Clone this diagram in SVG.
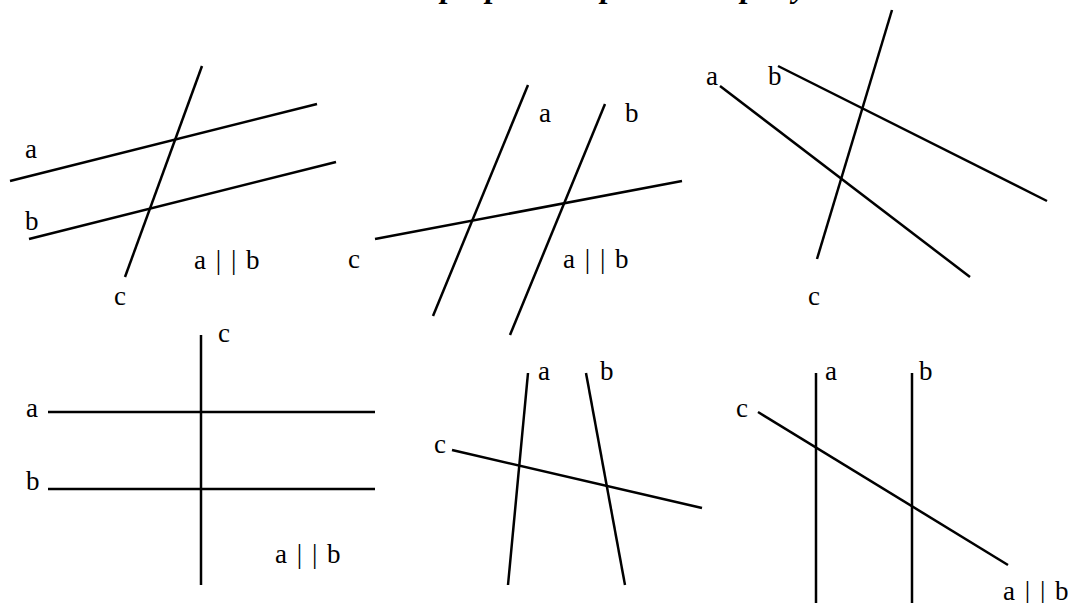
<svg xmlns="http://www.w3.org/2000/svg" width="1068" height="603" viewBox="0 0 1068 603">
<style>
  .ln { stroke: #000; stroke-width: 2.5; fill: none; stroke-linecap: butt; }
  .lb { font-family: "Liberation Serif", "Times New Roman", serif; font-size: 27px; fill: #000; }
  .par { word-spacing: 3px; }
  .title { font-family: "Liberation Serif", "Times New Roman", serif; font-size: 32px; font-style: italic; font-weight: bold; fill: #000; }
</style>
<rect width="1068" height="603" fill="#fff"/>
<text class="title" y="-3"><tspan x="441">p</tspan><tspan x="486">p</tspan><tspan x="601">p</tspan><tspan x="741">p</tspan><tspan x="793">y</tspan></text>
<g id="connectors">
  <line class="ln" x1="10" y1="181" x2="317" y2="104"/>
  <line class="ln" x1="29" y1="239" x2="336" y2="162"/>
  <line class="ln" x1="202" y1="66" x2="125" y2="277"/>
  <line class="ln" x1="528" y1="85" x2="433" y2="316"/>
  <line class="ln" x1="605" y1="104" x2="510" y2="335"/>
  <line class="ln" x1="375" y1="239" x2="682" y2="181"/>
  <line class="ln" x1="892" y1="10" x2="817" y2="259"/>
  <line class="ln" x1="778" y1="66" x2="1047" y2="201"/>
  <line class="ln" x1="720" y1="86" x2="970" y2="277"/>
  <line class="ln" x1="201" y1="335" x2="201" y2="585"/>
  <line class="ln" x1="48" y1="412" x2="375" y2="412"/>
  <line class="ln" x1="48" y1="489" x2="375" y2="489"/>
  <line class="ln" x1="528" y1="373" x2="508" y2="585"/>
  <line class="ln" x1="586" y1="373" x2="625" y2="585"/>
  <line class="ln" x1="452" y1="450" x2="702" y2="508"/>
  <line class="ln" x1="816" y1="373" x2="816" y2="603"/>
  <line class="ln" x1="912" y1="373" x2="912" y2="603"/>
  <line class="ln" x1="758" y1="412" x2="1008" y2="565"/>
</g>
<g id="panel1">
  <text class="lb" x="25" y="158">a</text>
  <text class="lb" x="25" y="230">b</text>
  <text class="lb" x="114" y="305">c</text>
  <text class="lb par" x="194" y="269">a | | b</text>
</g>
<g id="panel2">
  <text class="lb" x="539" y="122">a</text>
  <text class="lb" x="625" y="122">b</text>
  <text class="lb" x="348" y="268">c</text>
  <text class="lb par" x="563" y="268">a | | b</text>
</g>
<g id="panel3">
  <text class="lb" x="706" y="85">a</text>
  <text class="lb" x="768" y="85">b</text>
  <text class="lb" x="808" y="305">c</text>
</g>
<g id="panel4">
  <text class="lb" x="218" y="342">c</text>
  <text class="lb" x="26" y="417">a</text>
  <text class="lb" x="26" y="490">b</text>
  <text class="lb par" x="275" y="563">a | | b</text>
</g>
<g id="panel5">
  <text class="lb" x="538" y="380">a</text>
  <text class="lb" x="600" y="380">b</text>
  <text class="lb" x="434" y="453">c</text>
</g>
<g id="panel6">
  <text class="lb" x="825" y="380">a</text>
  <text class="lb" x="919" y="380">b</text>
  <text class="lb" x="736" y="417">c</text>
  <text class="lb par" x="1003" y="600">a | | b</text>
</g>
</svg>
